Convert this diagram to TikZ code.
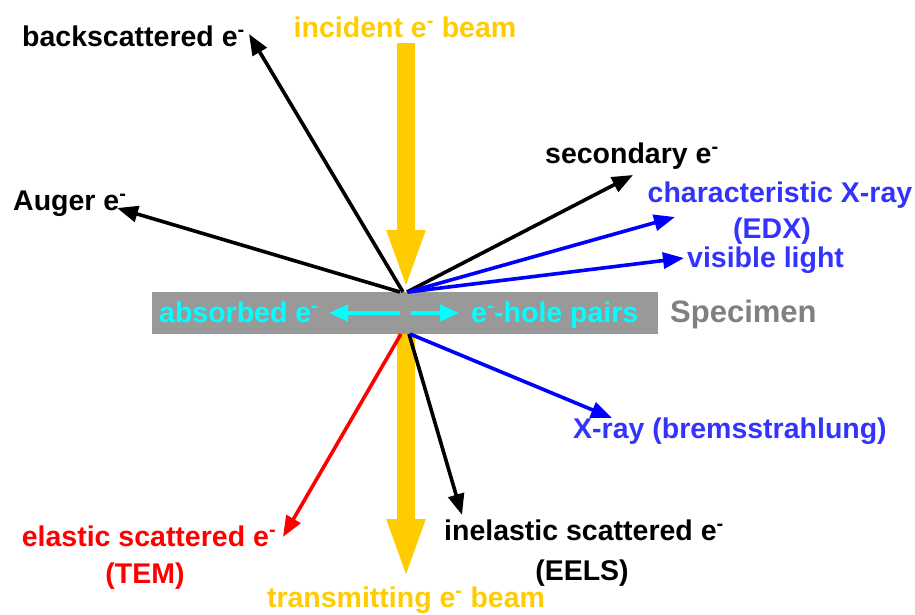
\documentclass[tikz,border=0pt]{standalone}
\usepackage{fontspec}
\setmainfont{Liberation Sans}
\usetikzlibrary{arrows.meta}
\definecolor{beam}{RGB}{255,204,0}
\definecolor{spec}{RGB}{153,153,153}
\definecolor{spectext}{RGB}{128,128,128}
\definecolor{bluearr}{RGB}{0,0,255}
\definecolor{bluetxt}{RGB}{51,51,255}
\definecolor{cyanc}{RGB}{0,255,255}
\definecolor{redc}{RGB}{255,0,0}
\newcommand\elm{\textsuperscript{-}}
\begin{document}
\begin{tikzpicture}[x=1pt,y=-1pt,
  lbl/.style={inner sep=0pt,font=\fontsize{28.5}{36}\selectfont\bfseries},
  ray/.style={line width=3.6pt,-{Triangle[length=21pt,width=16pt]}},
  beamarrow/.style={line width=18pt,-{Triangle[length=61pt,width=34pt]}},
  cy/.style={line width=4pt,cyanc,-{Triangle[length=19pt,width=16pt]}}]
\useasboundingbox (0,0) rectangle (915,614);
% specimen
\fill[spec] (152,292) rectangle (658,334);
% key points
\coordinate (inA) at (406,43);
\coordinate (inB) at (406,291);
\coordinate (trA) at (406,334);
\coordinate (trB) at (406,580);
\coordinate (tBack) at (249,34);
\coordinate (tAuger) at (117,208);
\coordinate (tSec) at (633,175);
\coordinate (tChar) at (675,217);
\coordinate (tVis) at (684,258);
\coordinate (tBrems) at (612,418);
\coordinate (tElastic) at (283,537);
\coordinate (tInel) at (462,515);
\coordinate (aL) at (400,313);
\coordinate (aLt) at (329,313);
\coordinate (aR) at (411,313);
\coordinate (aRt) at (459,313);
% beams
\draw[beamarrow,draw=beam,fill=beam] (inA) -- (inB);
\draw[beamarrow,draw=beam,fill=beam] (trA) -- (trB);
% emitted rays above
\draw[ray,black] (403,292) -- (tBack);
\draw[ray,black] (400,292) -- (tAuger);
\draw[ray,black] (407,292) -- (tSec);
\draw[ray,bluearr] (408,292) -- (tChar);
\draw[ray,bluearr] (408,292) -- (tVis);
% rays below
\draw[ray,redc] (401,334) -- (tElastic);
\draw[ray,black] (409,334) -- (tInel);
\draw[ray,bluearr] (410,334) -- (tBrems);
% cyan arrows in specimen
\draw[cy] (aL) -- (aLt);
\draw[cy] (aR) -- (aRt);
% labels
\node[lbl,beam,anchor=base] (incident) at (405,37) {incident e\elm{} beam};
\node[lbl,black,anchor=base west] (back) at (22,46) {backscattered e\elm};
\node[lbl,black,anchor=base west] (auger) at (13,210) {Auger e\elm};
\node[lbl,black,anchor=base west] (second) at (545,163) {secondary e\elm};
\node[lbl,bluetxt,anchor=base] (charx) at (780,202) {characteristic X-ray};
\node[lbl,bluetxt,anchor=base] (edx) at (772,238) {(EDX)};
\node[lbl,bluetxt,anchor=base west] (vis) at (687,267) {visible light};
\node[lbl,cyanc,anchor=base west] (absorbed) at (159,322) {absorbed e\elm};
\node[lbl,cyanc,anchor=base west] (hole) at (471,322) {e\elm-hole pairs};
\node[lbl,spectext,anchor=base west,font=\fontsize{31}{36}\selectfont\bfseries] (specimen) at (670,322) {Specimen};
\node[lbl,bluetxt,anchor=base west] (brems) at (573,438) {X-ray (bremsstrahlung)};
\node[lbl,redc,anchor=base] (elastic) at (149,546) {elastic scattered e\elm};
\node[lbl,redc,anchor=base] (tem) at (145,583) {(TEM)};
\node[lbl,black,anchor=base] (inel) at (584,540) {inelastic scattered e\elm};
\node[lbl,black,anchor=base] (eels) at (582,580) {(EELS)};
\node[lbl,beam,anchor=base] (trans) at (406,607) {transmitting e\elm{} beam};
\end{tikzpicture}
\end{document}
